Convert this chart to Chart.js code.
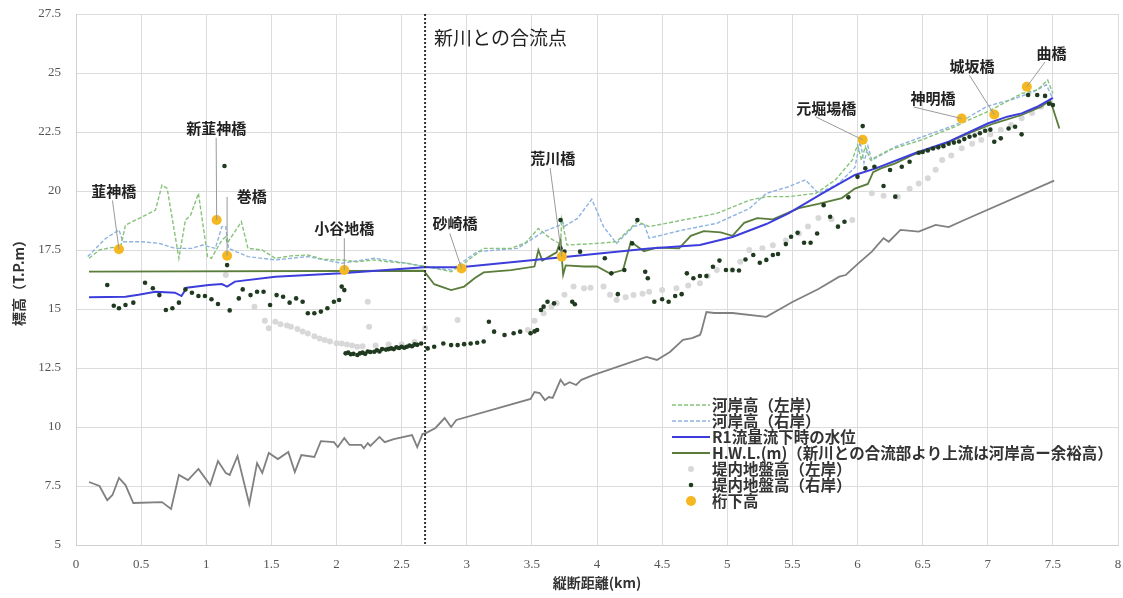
<!DOCTYPE html>
<html lang="ja">
<head>
<meta charset="utf-8">
<title>縦断図</title>
<script src="https://cdn.jsdelivr.net/npm/chart.js@4.4.1/dist/chart.umd.min.js"></script>
<style>
  html, body { margin: 0; padding: 0; background: #fff; }
</style>
</head>
<body>
<canvas id="profile" width="1123" height="598"></canvas>
<script>
// 河岸高（左岸）
const leftBank = [[0.1,17.15],[0.18,17.5],[0.28,17.61],[0.34,17.57],[0.38,18.56],[0.51,18.91],[0.61,19.19],[0.66,20.25],[0.7,20.11],[0.79,17.15],[0.84,18.77],[0.88,18.98],[0.94,19.9],[1.01,17.22],[1.04,17.15],[1.12,17.92],[1.15,18.06],[1.16,17.78],[1.27,18.7],[1.32,17.57],[1.43,17.5],[1.53,17.15],[1.65,17.25],[1.78,17.29],[1.9,17.1],[2.04,17.08],[2.15,17.0],[2.29,17.08],[2.4,17.0],[2.54,16.94],[2.67,16.82],[2.88,16.58],[2.98,16.94],[3.13,17.57],[3.34,17.57],[3.45,17.8],[3.55,18.41],[3.64,18.0],[3.72,17.75],[3.73,18.8],[3.77,17.71],[4.0,17.78],[4.15,17.85],[4.31,18.7],[4.4,18.49],[4.66,18.77],[4.92,19.05],[5.17,19.61],[5.3,19.76],[5.47,19.76],[5.68,19.9],[5.83,20.47],[5.96,21.31],[6.0,21.95],[6.03,21.31],[6.06,21.88],[6.1,21.31],[6.24,21.74],[6.49,22.16],[6.75,22.73],[6.85,23.0],[7.0,23.36],[7.26,24.13],[7.38,24.28],[7.46,24.7],[7.5,24.13]];

// 河岸高（右岸）
const rightBank = [[0.09,17.22],[0.23,18.0],[0.33,18.35],[0.36,17.85],[0.51,17.85],[0.64,17.78],[0.76,17.57],[0.89,17.57],[0.97,17.71],[1.07,17.57],[1.12,18.49],[1.15,18.49],[1.17,17.57],[1.32,17.22],[1.53,17.08],[1.78,17.22],[2.04,16.94],[2.29,17.15],[2.54,16.94],[2.67,16.79],[2.88,16.65],[3.08,17.43],[3.39,17.57],[3.59,18.28],[3.72,18.56],[3.73,18.8],[3.75,18.5],[3.85,18.84],[3.96,19.65],[4.05,18.49],[4.15,17.78],[4.28,18.49],[4.36,18.63],[4.4,18.0],[4.66,18.35],[4.92,18.63],[5.17,19.26],[5.3,19.9],[5.47,20.18],[5.6,20.47],[5.7,19.9],[5.85,20.3],[5.98,21.0],[6.02,22.1],[6.05,21.2],[6.08,21.9],[6.11,21.3],[6.3,21.9],[6.5,22.3],[6.75,22.8],[7.0,23.6],[7.2,23.9],[7.35,24.2],[7.45,24.5],[7.5,23.9]];

// R1流量流下時の水位
const waterLevel = [[0.1,15.5],[0.38,15.52],[0.48,15.6],[0.61,15.73],[0.76,15.69],[0.81,15.55],[0.85,15.9],[1.02,16.02],[1.12,16.06],[1.16,15.95],[1.22,16.16],[1.53,16.37],[2.04,16.51],[2.67,16.77],[2.95,16.77],[3.77,17.21],[4.4,17.56],[4.79,17.71],[5.04,18.05],[5.3,18.6],[5.47,19.05],[5.73,19.9],[5.98,20.68],[6.14,20.96],[6.44,21.6],[6.7,22.09],[7.0,22.86],[7.15,23.15],[7.26,23.29],[7.38,23.57],[7.5,23.95]];

// H.W.L.
const hwl = [[0.1,16.58],[2.67,16.62],[2.75,16.05],[2.88,15.8],[2.98,15.95],[3.06,16.3],[3.13,16.55],[3.34,16.65],[3.52,16.8],[3.55,17.5],[3.58,17.05],[3.69,17.4],[3.72,17.9],[3.74,16.45],[3.76,16.85],[3.9,16.8],[4.0,16.8],[4.1,16.5],[4.2,16.65],[4.26,17.85],[4.36,17.45],[4.46,17.6],[4.63,17.57],[4.72,18.1],[4.82,18.3],[4.95,18.25],[5.04,18.1],[5.13,18.65],[5.23,18.85],[5.35,18.8],[5.55,19.27],[5.7,19.45],[5.88,19.7],[5.98,20.1],[6.08,20.3],[6.12,20.8],[6.18,20.96],[6.29,21.17],[6.42,21.52],[6.65,21.95],[6.88,22.5],[7.05,22.87],[7.26,23.22],[7.41,23.57],[7.48,23.85],[7.55,22.65]];

// 堤内地盤高（左岸）
const groundLeft = [[1.15,16.44],[1.37,15.1],[1.45,14.5],[1.48,14.18],[1.53,14.46],[1.57,14.35],[1.62,14.3],[1.65,14.25],[1.7,14.15],[1.74,14.05],[1.78,13.96],[1.83,13.85],[1.87,13.75],[1.91,13.69],[1.95,13.62],[2.0,13.55],[2.04,13.54],[2.08,13.5],[2.12,13.45],[2.16,13.4],[2.2,13.42],[2.24,15.31],[2.25,14.25],[2.3,13.45],[2.4,13.5],[2.5,13.5],[2.6,13.6],[2.68,14.18],[2.93,14.53],[3.47,14.11],[3.52,14.5],[3.59,14.82],[3.65,15.1],[3.69,15.24],[3.75,15.6],[3.82,15.95],[3.9,15.88],[3.95,15.9],[4.05,15.95],[4.1,15.6],[4.15,15.38],[4.22,15.5],[4.28,15.59],[4.35,15.65],[4.4,15.73],[4.5,15.8],[4.61,15.88],[4.7,16.0],[4.79,16.09],[4.85,16.4],[4.92,16.65],[5.04,16.65],[5.1,17.0],[5.17,17.5],[5.27,17.57],[5.35,17.7],[5.45,17.9],[5.55,18.2],[5.62,18.5],[5.7,18.86],[5.8,18.8],[5.96,18.77],[6.11,19.9],[6.2,19.8],[6.31,19.76],[6.4,20.1],[6.47,20.32],[6.54,20.54],[6.6,20.9],[6.65,21.31],[6.72,21.5],[6.8,21.81],[6.88,22.0],[6.95,22.16],[7.02,22.4],[7.1,22.58],[7.18,22.8],[7.26,23.08],[7.34,23.3],[7.41,23.57]];

// 堤内地盤高（右岸）
const groundRight = [[0.24,16.02],[0.29,15.14],[0.33,15.03],[0.38,15.17],[0.44,15.27],[0.53,16.11],[0.59,15.88],[0.64,15.59],[0.69,14.96],[0.74,15.03],[0.79,15.27],[0.84,15.83],[0.89,15.69],[0.94,15.55],[0.99,15.55],[1.04,15.41],[1.09,15.21],[1.14,21.06],[1.16,16.86],[1.18,14.94],[1.25,15.45],[1.28,15.83],[1.34,15.59],[1.39,15.73],[1.44,15.73],[1.49,15.17],[1.54,15.59],[1.59,15.52],[1.64,15.27],[1.69,15.45],[1.74,15.31],[1.78,14.82],[1.83,14.82],[1.88,14.89],[1.93,15.03],[1.98,15.31],[2.02,15.38],[2.04,15.95],[2.06,15.8],
  [2.07,13.12],[2.09,13.15],[2.11,13.08],[2.13,13.1],[2.16,13.05],[2.18,13.12],[2.2,13.15],[2.22,13.1],[2.24,13.2],[2.26,13.18],[2.29,13.19],[2.31,13.25],[2.33,13.2],[2.35,13.3],[2.38,13.28],[2.4,13.3],[2.42,13.33],[2.44,13.3],[2.46,13.38],[2.48,13.35],[2.5,13.4],[2.52,13.36],[2.54,13.4],[2.56,13.45],[2.58,13.42],[2.6,13.5],[2.62,13.48],[2.65,13.54],
  [2.7,13.33],[2.75,13.4],[2.82,13.54],[2.88,13.47],[2.93,13.47],[2.98,13.51],[3.03,13.54],[3.08,13.57],[3.13,13.62],[3.17,14.46],[3.21,14.04],[3.29,13.9],[3.36,13.97],[3.41,14.04],[3.49,13.97],[3.52,14.05],[3.54,14.11],[3.57,14.96],[3.59,15.1],[3.62,15.31],[3.67,15.24],[3.72,18.77],[3.72,17.57],[3.75,17.43],[3.81,15.31],[3.83,15.2],[3.87,17.43],[4.06,17.15],[4.11,16.51],[4.16,15.63],[4.21,16.65],[4.27,17.78],[4.31,18.77],[4.37,16.58],[4.39,16.3],[4.44,15.31],[4.5,15.41],[4.55,15.31],[4.6,15.55],[4.65,15.63],[4.69,16.51],[4.74,16.3],[4.79,16.4],[4.84,16.4],[4.89,16.79],[4.94,17.05],[4.99,16.65],[5.04,16.65],[5.09,16.63],[5.14,17.1],[5.2,17.29],[5.25,16.96],[5.3,17.08],[5.35,17.29],[5.39,17.33],[5.45,17.75],[5.49,18.06],[5.54,18.23],[5.59,17.81],[5.64,17.81],[5.69,18.2],[5.74,19.4],[5.79,18.91],[5.85,18.49],[5.9,18.7],[5.93,19.73],[6.0,20.6],[6.04,22.75],[6.06,20.96],[6.13,21.03],[6.2,20.21],[6.25,20.89],[6.29,19.76],[6.34,21.03],[6.4,21.24],[6.47,21.62],
  [6.5,21.65],[6.54,21.72],[6.58,21.8],[6.62,21.85],[6.66,21.9],[6.7,22.0],[6.74,22.05],[6.78,22.1],[6.82,22.2],[6.86,22.3],[6.9,22.35],[6.94,22.45],[6.98,22.55],[7.02,22.6],[7.05,22.09],[7.1,22.23],[7.16,22.65],[7.21,22.72],[7.26,22.4],[7.31,24.07],[7.38,24.07],[7.44,24.03],[7.47,23.7],[7.5,23.64]];

// 河床高（凡例なし）
const riverbed = [[0.1,7.67],[0.18,7.5],[0.24,6.9],[0.28,7.12],[0.33,7.84],[0.38,7.54],[0.44,6.78],[0.66,6.82],[0.73,6.53],[0.79,7.97],[0.86,7.75],[0.94,8.22],[1.03,7.54],[1.09,8.56],[1.15,8.05],[1.18,7.97],[1.24,8.77],[1.33,6.74],[1.39,8.47],[1.43,8.05],[1.48,8.9],[1.55,8.64],[1.63,8.94],[1.68,8.09],[1.73,8.81],[1.83,8.73],[1.88,9.4],[1.98,9.36],[2.01,9.15],[2.06,9.53],[2.1,9.24],[2.19,9.24],[2.21,9.1],[2.24,9.32],[2.26,9.2],[2.33,9.58],[2.37,9.36],[2.44,9.49],[2.58,9.66],[2.62,9.15],[2.66,9.7],[2.69,9.75],[2.76,9.96],[2.83,10.38],[2.88,10.0],[2.92,10.3],[3.49,11.19],[3.52,11.48],[3.56,11.44],[3.6,11.14],[3.63,11.27],[3.66,11.23],[3.72,12.0],[3.75,11.78],[3.79,11.9],[3.84,11.78],[3.88,12.0],[3.97,12.2],[4.38,12.97],[4.46,12.84],[4.56,13.18],[4.66,13.69],[4.73,13.77],[4.79,13.9],[4.8,14.03],[4.84,14.87],[4.9,14.83],[5.04,14.83],[5.3,14.67],[5.5,15.3],[5.7,15.85],[5.86,16.37],[5.91,16.44],[6.0,16.9],[6.11,17.43],[6.2,18.0],[6.24,17.85],[6.33,18.35],[6.47,18.28],[6.6,18.56],[6.7,18.47],[6.82,18.77],[7.51,20.44]];

// 桁下高
const bridgeNames = ['韮神橋', '新韮神橋', '巻橋', '小谷地橋', '砂崎橋', '荒川橋', '元堀場橋', '神明橋', '城坂橋', '曲橋'];
const bridgeKm = [0.33, 1.08, 1.16, 2.06, 2.96, 3.73, 6.04, 6.8, 7.05, 7.3];
const girderHeight = [17.53, 18.77, 17.26, 16.65, 16.72, 17.22, 22.17, 23.07, 23.24, 24.42];

// label placement (data units) and start of the leader line
const labelAt = [[0.29,19.98],[1.076,22.67],[1.35,19.77],[2.06,18.43],[2.91,18.64],[3.66,21.4],[5.76,23.52],[6.58,23.94],[6.88,25.3],[7.49,25.85]];
const leaderFrom = [[0.28,19.6],[1.076,22.25],[1.16,19.75],[2.06,18.0],[2.87,18.2],[3.64,20.97],[5.68,23.14],[6.43,23.56],[6.86,24.9],[7.44,25.47]];

const confluenceKm = 2.68;
const xTicks = [0, 0.5, 1, 1.5, 2, 2.5, 3, 3.5, 4, 4.5, 5, 5.5, 6, 6.5, 7, 7.5, 8];
const yTicks = [5, 7.5, 10, 12.5, 15, 17.5, 20, 22.5, 25, 27.5];

const pts = arr => arr.map(p => ({ x: p[0], y: p[1] }));
const JP = '"Noto Sans CJK JP", "Noto Sans", sans-serif';
const SERIF = '"Liberation Serif", "DejaVu Serif", serif';

// bridge labels, leaders, confluence line
const annotations = {
    id: 'annotations',
    afterDatasetsDraw(chart) {
        const { ctx, chartArea, scales: { x, y } } = chart;
        ctx.save();

        // 新川との合流点
        const cx = x.getPixelForValue(confluenceKm);
        ctx.strokeStyle = '#333';
        ctx.lineWidth = 2;
        ctx.setLineDash([2, 2]);
        ctx.beginPath();
        ctx.moveTo(cx, chartArea.top);
        ctx.lineTo(cx, chartArea.bottom);
        ctx.stroke();
        ctx.setLineDash([]);
        ctx.fillStyle = '#222';
        ctx.font = '19px ' + JP;
        ctx.textAlign = 'left';
        ctx.textBaseline = 'middle';
        ctx.fillText('新川との合流点', cx + 9, chartArea.top + 24);

        // leaders
        ctx.strokeStyle = '#9a9a9a';
        ctx.lineWidth = 1;
        bridgeNames.forEach((name, i) => {
            ctx.beginPath();
            ctx.moveTo(x.getPixelForValue(leaderFrom[i][0]), y.getPixelForValue(leaderFrom[i][1]));
            ctx.lineTo(x.getPixelForValue(bridgeKm[i]), y.getPixelForValue(girderHeight[i]));
            ctx.stroke();
        });

        // labels
        ctx.fillStyle = '#222';
        ctx.font = 'bold 15px ' + JP;
        ctx.textAlign = 'center';
        bridgeNames.forEach((name, i) => {
            ctx.fillText(name, x.getPixelForValue(labelAt[i][0]), y.getPixelForValue(labelAt[i][1]));
        });
        ctx.restore();
    }
};

// legend drawn inside the plot, lower right
const insideLegend = {
    id: 'insideLegend',
    afterDraw(chart) {
        const { ctx, chartArea } = chart;
        const left = chartArea.left + 596;
        let rowY = chartArea.top + 391;
        ctx.save();
        chart.data.datasets.forEach(ds => {
            if (!ds.label) return;
            if (ds.showLine) {
                ctx.strokeStyle = ds.borderColor;
                ctx.lineWidth = ds.borderWidth;
                ctx.setLineDash(ds.borderDash || []);
                ctx.beginPath();
                ctx.moveTo(left, rowY);
                ctx.lineTo(left + 38, rowY);
                ctx.stroke();
                ctx.setLineDash([]);
            } else {
                ctx.fillStyle = ds.backgroundColor;
                ctx.beginPath();
                ctx.arc(left + 19, rowY, ds.pointRadius, 0, Math.PI * 2);
                ctx.fill();
            }
            ctx.fillStyle = '#333';
            ctx.font = 'bold 15.5px ' + JP;
            ctx.textAlign = 'left';
            ctx.textBaseline = 'middle';
            ctx.fillText(ds.label, left + 40, rowY);
            rowY += 16;
        });
        ctx.restore();
    }
};

const ctx = document.getElementById('profile').getContext('2d');
new Chart(ctx, {
    type: 'scatter',
    data: {
        datasets: [
            { label: '河岸高（左岸）', data: pts(leftBank), showLine: true, borderColor: '#86c27a', borderWidth: 1.4, borderDash: [4, 2], pointRadius: 0, order: 5 },
            { label: '河岸高（右岸）', data: pts(rightBank), showLine: true, borderColor: '#8fb3e0', borderWidth: 1.4, borderDash: [4, 2], pointRadius: 0, order: 6 },
            { label: 'R1流量流下時の水位', data: pts(waterLevel), showLine: true, borderColor: '#3d3ddc', borderWidth: 2, pointRadius: 0, order: 3 },
            { label: 'H.W.L.(m)（新川との合流部より上流は河岸高ー余裕高）', data: pts(hwl), showLine: true, borderColor: '#5b7d3b', borderWidth: 1.8, pointRadius: 0, order: 4 },
            { label: '堤内地盤高（左岸）', data: pts(groundLeft), backgroundColor: '#d8d8d8', borderWidth: 0, pointRadius: 3, order: 8 },
            { label: '堤内地盤高（右岸）', data: pts(groundRight), backgroundColor: '#1f3a1f', borderWidth: 0, pointRadius: 2.3, order: 2 },
            { label: '桁下高', data: bridgeKm.map((k, i) => ({ x: k, y: girderHeight[i] })), backgroundColor: '#f5b820', borderWidth: 0, pointRadius: 5, order: 1 },
            { label: '', data: pts(riverbed), showLine: true, borderColor: '#808080', borderWidth: 1.8, pointRadius: 0, order: 7 }
        ]
    },
    options: {
        responsive: false,
        animation: false,
        layout: { padding: { top: 14, right: 3, left: 0, bottom: 0 } },
        plugins: {
            legend: { display: false },
            tooltip: { enabled: false }
        },
        scales: {
            x: {
                type: 'linear', min: 0, max: 8,
                afterBuildTicks: s => { s.ticks = xTicks.map(v => ({ value: v })); },
                afterFit: s => { s.height = 53; s.paddingLeft = 0; s.paddingRight = 0; },
                grid: { color: '#dcdcdc', drawTicks: false },
                border: { color: '#d0d0d0' },
                ticks: { padding: 12, color: '#555', font: { family: SERIF, size: 13 }, callback: v => String(v) },
                title: { display: true, text: '縦断距離(km)', color: '#333', font: { family: JP, size: 14, weight: 'bold' }, padding: { top: 0, bottom: 7 } }
            },
            y: {
                type: 'linear', min: 5, max: 27.5,
                afterBuildTicks: s => { s.ticks = yTicks.map(v => ({ value: v })); },
                afterFit: s => { s.width = 76; s.paddingTop = 0; s.paddingBottom = 0; },
                grid: { color: '#dcdcdc', drawTicks: false },
                border: { color: '#d0d0d0' },
                ticks: { padding: 15, color: '#555', font: { family: SERIF, size: 13 }, callback: v => String(v) },
                title: { display: true, text: '標高（T.P.m）', color: '#333', font: { family: JP, size: 14, weight: 'bold' }, padding: { top: 10, bottom: 0 } }
            }
        }
    },
    plugins: [annotations, insideLegend]
});
</script>
</body>
</html>
